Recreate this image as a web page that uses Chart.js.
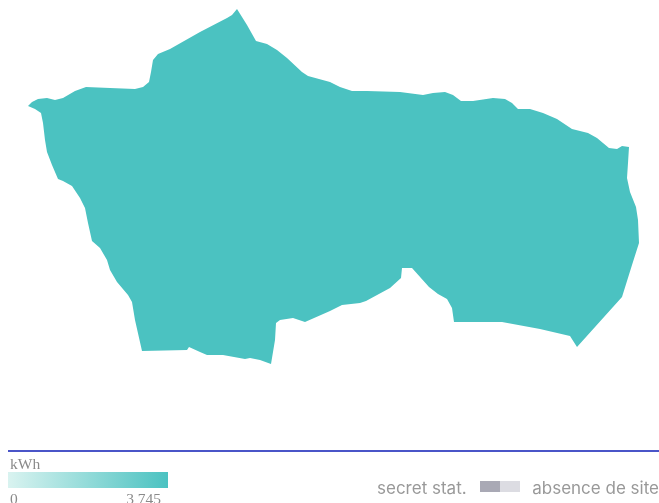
<!DOCTYPE html>
<html>
<head>
<meta charset="utf-8">
<style>
html, body { margin: 0; padding: 0; background: #fff; overflow: hidden; }
#page { position: relative; width: 659px; height: 503px; overflow: hidden; }
#map { position: absolute; left: 0; top: 0; }
#rule { position: absolute; left: 8px; right: 0; top: 449.5px; height: 2px; background: #4a55c8; }
.serif { position: absolute; font-family: "Liberation Serif", serif; font-size: 15.5px; line-height: 16px; color: #8a8a8a; }
#unit { left: 10px; top: 456px; }
#min { left: 10px; top: 491px; }
#max { right: 498px; top: 491px; }
#ramp { position: absolute; left: 8px; top: 472px; width: 160px; height: 16px; background: linear-gradient(to right, #d9f3f0, #4bc2c1); }
.note { position: absolute; top: 478px; font-family: Inter, "Noto Sans", sans-serif; font-size: 17px; line-height: 20px; color: #999; white-space: nowrap; }
#secret { left: 377px; }
#nosite { right: 0; }
.swatch { position: absolute; top: 481px; width: 20px; height: 11px; }
#sw1 { left: 480px; background: #a9a9b5; }
#sw2 { left: 500px; background: #dcdce2; }
</style>
</head>
<body>
<div id="page">
    <canvas id="map" width="659" height="503"></canvas>
    <div id="rule"></div>
    <div class="serif" id="unit"></div>
    <div id="ramp"></div>
    <div class="serif" id="min"></div>
    <div class="serif" id="max"></div>
    <div class="note" id="secret"></div>
    <div class="swatch" id="sw1"></div>
    <div class="swatch" id="sw2"></div>
    <div class="note" id="nosite"></div>
</div>
<script src="https://cdn.jsdelivr.net/npm/chart.js@4/dist/chart.umd.min.js"></script>
<script>
const unitLabel = 'kWh';
const scaleTicks = ['0', '3 745'];
const secretLabel = 'secret stat.';
const noSiteLabel = 'absence de site';

// outline of the region
const outlineX = [28, 32, 38, 47, 55, 63, 75, 86, 110, 135, 143, 149, 151, 153, 158, 170, 200, 227, 232, 237,
    247, 256, 267, 277, 287, 302, 308, 330, 340, 352, 367, 400, 423, 433, 445, 453, 461, 473, 493, 505,
    512, 518, 530, 543, 557, 572, 588, 597, 609, 617, 622, 629, 628, 627, 630, 636, 638, 639, 632, 622,
    613, 577, 570, 540, 502, 454, 452, 447, 438, 429, 412, 402, 401, 390, 366, 360, 342, 330, 305, 293,
    280, 276, 275, 271, 260, 250, 245, 223, 207, 200, 189, 187, 142, 135, 132, 128, 117, 110, 107, 100,
    92, 88, 85, 80, 72, 63, 58, 52, 47, 45, 43, 41, 35, 28];
const outlineY = [106, 102, 99, 98, 100, 98, 91, 87, 88, 89, 87, 82, 72, 60, 54, 49, 32, 18, 15, 9,
    25, 41, 44, 50, 58, 72, 76, 82, 87, 91, 91, 92, 95, 93, 92, 95, 101, 101, 98, 99,
    103, 109, 109, 113, 119, 129, 133, 138, 148, 149, 146, 147, 163, 178, 192, 207, 220, 243, 265, 297,
    307, 347, 336, 329, 322, 322, 308, 299, 294, 287, 268, 268, 278, 288, 301, 303, 305, 311, 322, 318,
    320, 323, 340, 364, 360, 358, 359, 355, 355, 352, 347, 350, 351, 320, 302, 295, 282, 270, 260, 248,
    241, 223, 208, 198, 186, 181, 179, 165, 152, 140, 123, 113, 109, 106];

document.getElementById('unit').textContent = unitLabel;
document.getElementById('min').textContent = scaleTicks[0];
document.getElementById('max').textContent = scaleTicks[1];
document.getElementById('secret').textContent = secretLabel;
document.getElementById('nosite').textContent = noSiteLabel;

const ctx = document.getElementById('map').getContext('2d');
const myChart = new Chart(ctx, {
    type: 'scatter',
    data: {
        datasets: [{
            label: 'kWh',
            data: outlineX.map((x, i) => ({ x: x, y: outlineY[i] })),
            showLine: true,
            fill: 'shape',
            tension: 0,
            pointRadius: 0,
            borderWidth: 0,
            backgroundColor: '#4bc2c1'
        }]
    },
    options: {
        responsive: false,
        animation: false,
        layout: { padding: 0 },
        plugins: {
            legend: { display: false },
            tooltip: { enabled: false }
        },
        scales: {
            x: { type: 'linear', display: false, min: 0, max: 659 },
            y: { type: 'linear', display: false, min: 0, max: 503, reverse: true }
        }
    }
});
</script>
</body>
</html>
